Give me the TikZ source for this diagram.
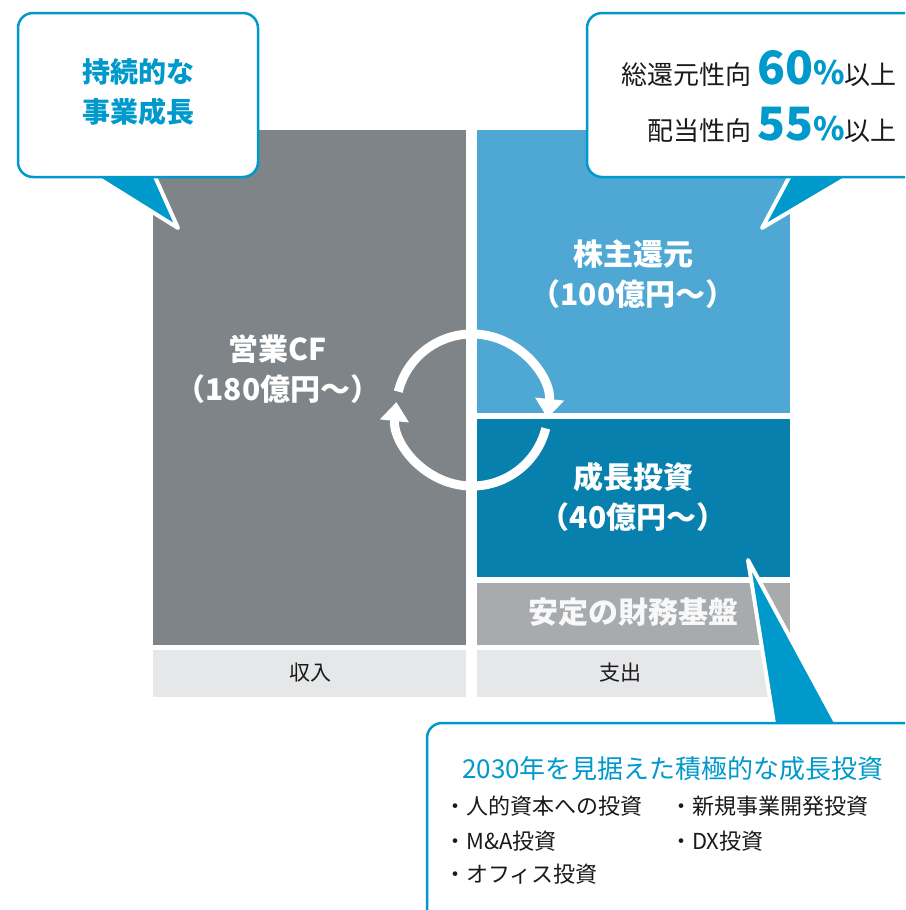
\documentclass[tikz,border=0pt]{standalone}
\usepackage{fontspec}
\setmainfont{Noto Sans CJK JP}
\usetikzlibrary{arrows.meta}
\definecolor{cgray}{HTML}{7E8487}
\definecolor{clblue}{HTML}{4FA7D4}
\definecolor{cdblue}{HTML}{0880AD}
\definecolor{cstrip}{HTML}{A7ABAE}
\definecolor{clight}{HTML}{E6E7E9}
\definecolor{cblue}{HTML}{0099CC}
\definecolor{ctext}{HTML}{1A1A1A}
\tikzset{
  block/.style={inner sep=0pt, outer sep=0pt, anchor=north west},
  lbl/.style={text=white, font=\fontsize{30}{40}\selectfont\bfseries, align=center},
  foot/.style={text=ctext, font=\fontsize{21}{24}\selectfont},
  callout/.style={fill=white, draw=cblue, line width=2.5pt, rounded corners=15pt},
  tail/.style={fill=cblue, draw=white, line width=4pt, line join=round},
  cyc/.style={draw=white, line width=9pt, -{Triangle[width=28pt,length=19pt]}},
  item/.style={anchor=base west, inner sep=0pt, text=ctext, font=\fontsize{22}{22}\selectfont},
}
\newcommand{\pct}[1]{{\color{cblue}\bfseries\fontsize{46}{46}\selectfont #1\fontsize{32}{32}\selectfont\%}}
\begin{document}
\begin{tikzpicture}[x=1pt,y=-1pt]
\useasboundingbox (0,0) rectangle (905,910);
\clip (0,0) rectangle (905,910);
% blocks
\node[block, fill=cgray, minimum width=313pt, minimum height=515pt] (income) at (153,130) {};
\node[block, fill=clblue, minimum width=313pt, minimum height=283pt] (share) at (477,130) {};
\node[block, fill=cdblue, minimum width=313pt, minimum height=158pt] (grow) at (477,419) {};
\node[block, fill=cstrip, minimum width=313pt, minimum height=62pt] (base) at (477,583) {};
\node[block, fill=clight, minimum width=313pt, minimum height=47pt] (inbox) at (153,650) {};
\node[block, fill=clight, minimum width=313pt, minimum height=47pt] (outbox) at (477,650) {};
% labels
\node[lbl] (lcf) at (278,369) {営業CF\\（180億円～）};
\node[lbl] (lshare) at (633,274) {株主還元\\（100億円～）};
\node[lbl] (lgrow) at (633,497) {成長投資\\（40億円～）};
\node[lbl, text=white!92!cstrip] (lbase) at (633,612) {安定の財務基盤};
\node[foot] (lin) at (310,673) {収入};
\node[foot] (lout) at (620,673) {支出};
% cycle arrows
\coordinate (cc) at (472,410);
\draw[cyc] ([shift={(194:76)}]cc) arc[start angle=194, end angle=366, radius=76];
\draw[cyc] ([shift={(14:76)}]cc) arc[start angle=14, end angle=186, radius=76];
% left callout
\coordinate (ltip) at (178,228);
\draw[tail] (85,170) -- (ltip) -- (152,170);
\draw[callout] (18,13) rectangle (258,177);
\node[text=cblue, font=\fontsize{28}{40}\selectfont\bfseries, align=center] (lc) at (138,92) {持続的な\\事業成長};
% right callout
\coordinate (rtip) at (762,228);
\draw[tail] (793,170) -- (rtip) -- (860,170);
\draw[callout] (587,13) rectangle (940,177);
\node[anchor=base east, inner sep=0pt, text=ctext, font=\fontsize{26}{26}\selectfont] (r1) at (897,84)
  {総還元性向 \pct{60}以上};
\node[anchor=base east, inner sep=0pt, text=ctext, font=\fontsize{26}{26}\selectfont] (r2) at (897,140)
  {配当性向 \pct{55}以上};
% bottom callout
\coordinate (btip) at (748,560);
\draw[tail] (775,730) -- (btip) -- (840,730);
\draw[callout] (427,723) rectangle (940,950);
\node[anchor=base west, inner sep=0pt, text=cblue, font=\fontsize{26}{26}\selectfont] (bt) at (462,778) {2030年を見据えた積極的な成長投資};
\node[item] (i1) at (444,814) {・人的資本への投資};
\node[item] (i2) at (444,849) {・M\&A投資};
\node[item] (i3) at (444,882) {・オフィス投資};
\node[item] (i4) at (670,814) {・新規事業開発投資};
\node[item] (i5) at (670,849) {・DX投資};
\end{tikzpicture}
\end{document}
